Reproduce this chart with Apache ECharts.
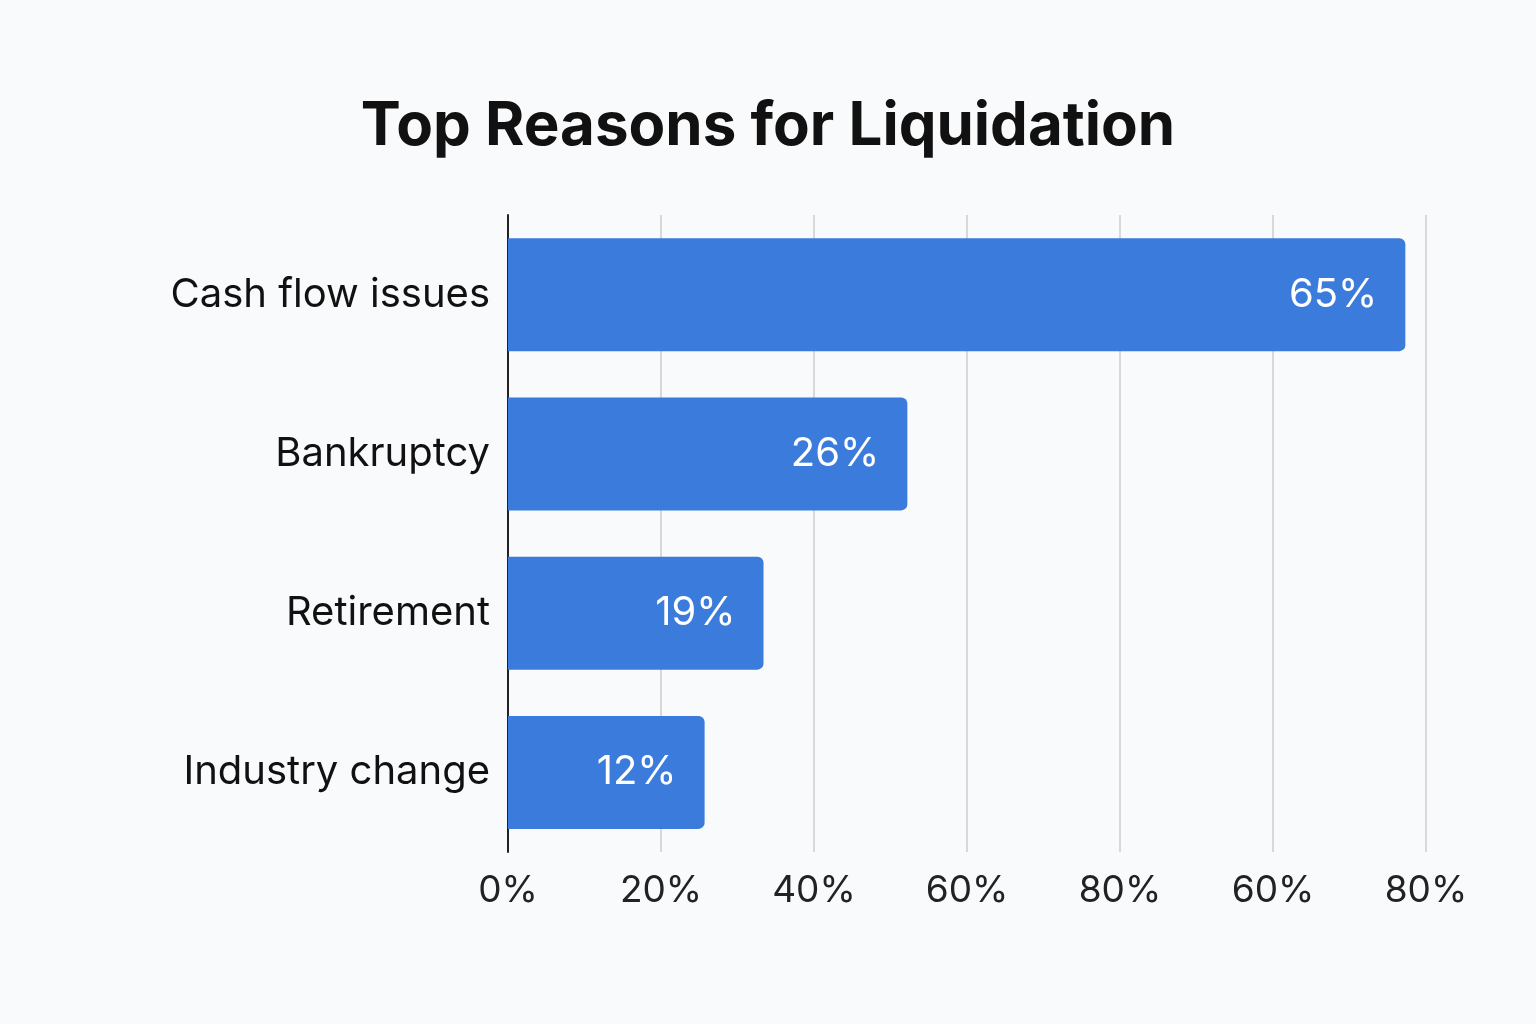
<!DOCTYPE html>
<html>
<head>
<meta charset="utf-8">
<script src="https://cdn.jsdelivr.net/npm/echarts@6/dist/echarts.min.js"></script>
<style>
html, body { margin: 0; padding: 0; background: #f9fafb; }
#container { width: 1536px; height: 1024px; }
</style>
</head>
<body>
<div id="container"></div>
<script>
// data
var categories = ['Cash flow issues', 'Bankruptcy', 'Retirement', 'Industry change'];
// bar ends as measured against the drawn axis (units of the axis, 20 per gridline)
var barLengths = [117.3, 52.2, 33.4, 25.7];
// labels printed inside the bars
var barLabels = ['65%', '26%', '19%', '12%'];
// tick labels exactly as they appear under the axis
var tickLabels = ['0%', '20%', '40%', '60%', '80%', '60%', '80%'];

var myChart = echarts.init(document.getElementById('container'));
var option = {
    backgroundColor: '#f9fafb',
    title: {
        text: 'Top Reasons for Liquidation',
        left: 'center',
        top: 92,
        textStyle: { fontFamily: 'Inter', fontSize: 60, fontWeight: 'bold', color: '#111' }
    },
    grid: { left: 508, right: 110, top: 215, bottom: 172 },
    xAxis: {
        type: 'value',
        min: 0,
        max: 120,
        interval: 20,
        axisLine: { show: false },
        axisTick: { show: false },
        splitLine: { show: true, lineStyle: { color: '#d8d8d8', width: 2 } },
        axisLabel: {
            margin: 20,
            fontFamily: 'Inter',
            fontSize: 37,
            color: '#222',
            formatter: function (v) { return tickLabels[Math.round(v / 20)]; }
        }
    },
    yAxis: {
        type: 'category',
        inverse: true,
        data: categories,
        axisLine: { show: true, lineStyle: { color: '#222', width: 2 } },
        axisTick: { show: false },
        axisLabel: { margin: 18, fontFamily: 'Inter', fontSize: 40, color: '#111' }
    },
    series: [{
        type: 'bar',
        barWidth: 113,
        data: barLengths,
        itemStyle: { color: '#3b7bdb', borderRadius: [0, 6, 6, 0] },
        label: {
            show: true,
            position: 'insideRight',
            distance: 28,
            fontFamily: 'Inter',
            fontSize: 40,
            color: '#fff',
            formatter: function (p) { return barLabels[p.dataIndex]; }
        }
    }]
};
myChart.setOption(option);
</script>
</body>
</html>
